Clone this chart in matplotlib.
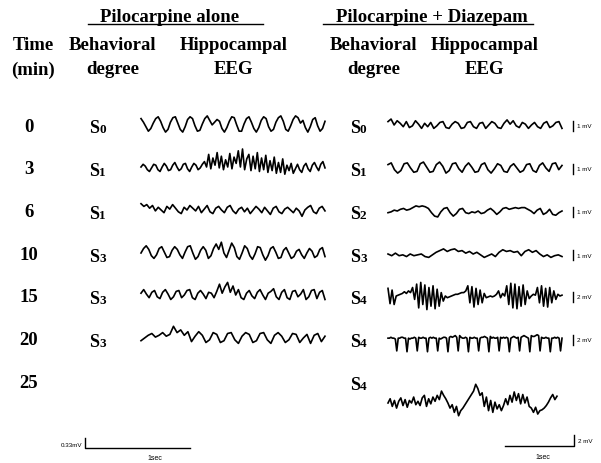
import numpy as np
from matplotlib import pyplot as plt

# time points (min) and behavioural stages
times = ["0", "3", "6", "10", "15", "20", "25"]
stage_alone = ["0", "1", "1", "3", "3", "3"]
stage_diaz = ["0", "1", "2", "3", "4", "4", "4"]
scale_diaz = ["1 mV", "1 mV", "1 mV", "1 mV", "2 mV", "2 mV", "2 mV"]

# EEG traces (deflection, up = positive)
eeg_alone = [
    [6, 2, -3, -8, -5, 1, 6, 8, 3, -4, -9, -6, 2, 7, 8, 1, -6, -9, -3, 5, 8, 6, -2, -8, -7, 0, 6, 9, 4, -1,
     2, 5, 3, -5, -9, -4, 3, 8, 7, -1, -8, -8, 0, 6, 8, 2, -5, -9, -4, 4, 8, 6, -3, -8, -6, 2, 7, 9, 3, -6,
     -8, -2, 5, 9, 7, 1, 4, -4, -9, -3, 5, 7, -2, -8, -5, 3],
    [0, 3, 1, -3, -5, -1, 3, 2, -3, -5, 0, 4, 1, -4, -3, 2, 5, 0, -4, -2, 3, 4, -2, -5, 0, 4, 2, -3, -1, 3,
     6, 0, 14, -2, 10, 2, 16, -1, 12, -3, 8, 0, 15, -2, 11, 4, 18, 0, 20, -3, 9, 14, -4, 12, -2, 16, -5, 10,
     -3, 13, -6, 7, -4, 11, -7, 5, -6, 9, -8, 2, -4, 4, -7, -2, 3, -3, -6, 1, 4, -2, -5, 2, 5, 0, -4, 3, 6, -1],
    [7, 4, 6, 2, 5, -1, 3, 0, -3, 4, 1, 6, 2, -2, -4, 3, 0, 5, 2, -1, 4, -3, 1, 5, -2, -4, 2, 4, 0, -3,
     3, 5, -1, -4, 1, 3, -2, 2, -4, 0, 4, 1, -3, 3, -1, -5, 2, 4, -2, -4, 1, 3, 0, -3, 2, -1, -7, 0, 3, 5,
     -2, -4, 2, 4, -1],
    [0, 5, 8, 4, -3, -6, -2, 5, 7, 1, -5, -4, 3, 7, 4, -2, -6, 1, 7, 8, 0, -7, -4, 3, 7, 3, -6, -3, 5, 10,
     4, 12, 0, -5, 3, 11, 6, -4, -7, 0, 8, 5, -3, -7, -1, 7, 6, -2, -8, -3, 5, 7, 1, -6, -5, 3, 6, 0, -6, -4,
     2, 4, -2, -6, 0, 5, 2, -5, -3, 4, 6, -4],
    [2, 6, 1, -3, 3, 5, -2, -4, 3, 6, 1, -5, -2, 4, 5, -3, 0, 5, 6, -3, -5, 2, 5, 1, -4, 3, 2, -3, 4, 12,
     2, 9, 14, 3, 10, 0, 6, -3, -5, 2, 5, -1, -4, 3, 6, 0, -5, 2, 4, 7, -2, -5, 3, 6, -3, -5, 4, 5, -2, 1,
     6, -5, -2, 5, 6, -4, 3, 5, -5],
    [-3, 0, 3, 5, 1, 3, 6, 2, 4, 13, 6, 9, 3, 7, -4, 2, 7, 3, -5, -2, 6, 4, -5, -3, 5, 6, -2, -6, 2, 6,
     4, -5, -3, 5, 6, -2, -6, 3, 6, 2, -5, -2, 5, 4, -5, 0, 4, -6, 3, 5, -4, 2],
]
eeg_diaz = [
    [4, 7, 0, 5, 2, -2, 4, -3, -1, 5, 1, -4, 2, -2, 3, -4, -1, 3, 4, -3, -4, 1, 4, 2, -4, -3, 3, 4, -2,
     -4, 2, 3, -4, 0, 4, 2, -3, -4, 2, 6, 1, 5, -1, -3, 3, 1, -4, 0, 3, -2, -4, 2, 4, -3, -1, 3, 4, -4],
    [4, 6, -2, -6, -3, 5, 6, 0, -5, -4, 5, 7, 1, -5, -4, 4, 7, 2, -6, -3, 5, 6, -1, -5, 2, 6, 1, -5, -4, 4,
     6, -2, -6, -1, 5, 3, -4, -5, 2, 5, 0, -5, -3, 4, 5, -3, -5, 3, 6, 0, -4, 5, 6, -2, 3],
    [-2, -1, 1, 0, 2, 3, 1, 2, 4, 6, 5, 6, 5, 3, -2, -6, -7, -1, 3, 4, -2, -6, -3, 2, 3, -2, -3, -1, -2, 0,
     -3, -2, 1, 3, 0, -4, -1, 3, 4, 2, 3, 4, 3, 4, 4, 2, 0, -3, 1, 3, -4, -2, 2, -4, -5, -2, 0],
    [0, -2, 1, -2, -1, -3, 0, -2, -1, 0, -3, -4, -1, 2, 4, 6, 3, 5, 6, 3, 4, 1, 3, 0, 2, -1, -4, -2, 0,
     -3, 2, 5, 3, 4, 2, 3, -2, 3, 5, 2, 4, 0, -3, -1, -4, -2, -1, -3],
    [9, -9, 7, -10, 0, 1, 2, 3, 5, 3, 6, 4, 10, -4, 14, -14, 16, -10, 13, -16, 10, -12, 12, -15, 8, -12, 4,
     -6, 0, -2, -1, 0, 1, 2, 2, 3, 4, 4, 6, 12, -8, 11, -13, 9, -10, 7, -8, 3, -2, -1, 0, -1, 0, 2, 6, -2, 3,
     0, 12, -10, 15, -14, 14, -15, 11, -12, 13, -10, 6, -3, 0, 2, 1, 10, -8, 12, -12, 9, -13, 10, -8, 6, -4,
     2, 0, 1],
    [1, 1, 2, 1, 1, 0, -14, 1, 1, 2, 2, 1, 1, -15, 1, 0, 1, 1, 2, 1, -14, 2, 1, 1, 2, 1, 1, -15, 1, 2, 1,
     2, 1, 1, -14, 1, 0, 1, 2, 2, 1, -15, 2, 3, 2, 3, 4, 2, -14, 4, 2, 1, 1, 2, 1, -15, 2, 1, 1, 2, 1, 1,
     -14, 1, 2, 2, 3, 2, 1, -15, 3, 1, 2, 1, 1, 2, -14, 2, 1, 2, 1, 2, 1, -15, 1, 2, 3, 2, 1, 2, -14, 2,
     3, 4, 3, 2, 1, -15, 4, 3, 3, 4, 5, 4, -14, 2, 1, 1, 2, 1, 1, -15, 1, 1, 2, 1, 2, 1, -14, 1],
    [0, 5, -4, 3, -6, 2, 6, -3, 4, -5, 3, 0, 7, -2, 2, -3, 6, 9, -4, 5, -1, 7, 2, 9, 4, 14, 9, 5, 0, -6,
     -2, -11, -4, -15, -9, -6, -2, 2, 6, 10, 14, 22, 17, 9, 12, -4, 7, -9, 3, -11, 1, -7, -2, -9, -3, 5, -2,
     9, 1, 13, 3, 11, -1, 10, 0, 7, -4, -6, -11, -5, -13, -9, -8, -6, -3, 1, 6, 10, 4, 8],
]

# layout (pixel coordinates)
row_y = [127, 170, 213, 256, 298, 341, 384]
left_x = (141, 325)
right_x = (388, 562)

fig = plt.figure(figsize=(6.01, 4.64), dpi=100)
ax = fig.add_axes([0, 0, 1, 1])
ax.set_xlim(0, 601)
ax.set_ylim(464, 0)
ax.axis("off")

serif = dict(family="Liberation Serif", weight="bold", color="black")
sans = dict(family="Liberation Sans", color="black")

# headers
ax.text(170, 17, "Pilocarpine alone", ha="center", va="center", fontsize=13.5, **serif)
ax.plot([88, 263], [25, 25], color="black", lw=1)
ax.text(432, 17, "Pilocarpine + Diazepam", ha="center", va="center", fontsize=13.5, **serif)
ax.plot([323, 533], [25, 25], color="black", lw=1)
for x, top, bottom in [(33, "Time", "(min)"), (113, "Behavioral", "degree"),
                       (234, "Hippocampal", "EEG"), (374, "Behavioral", "degree"),
                       (485, "Hippocampal", "EEG")]:
    ax.text(x, 46, top, ha="center", va="center", fontsize=13.5, **serif)
    ax.text(x, 70, bottom, ha="center", va="center", fontsize=13.5, **serif)


def stage(x, y, digit):
    ax.text(x, y + 6, "S", ha="left", va="baseline", fontsize=13, **serif)
    ax.text(x + 10, y + 6, digit, ha="left", va="baseline", fontsize=9.5, **serif)


for i, t in enumerate(times):
    ax.text(29, row_y[i], t, ha="center", va="center", fontsize=13.5, **serif)

for i, vals in enumerate(eeg_alone):
    stage(89, row_y[i], stage_alone[i])
    xs = np.linspace(left_x[0], left_x[1], len(vals))
    ax.plot(xs, row_y[i] - 2 - np.array(vals) * 0.9, color="black", lw=1.2)

for i, vals in enumerate(eeg_diaz):
    stage(350, row_y[i], stage_diaz[i])
    off = 20 if i == 6 else -1
    xs = np.linspace(right_x[0], right_x[1] - (5 if i == 6 else 0), len(vals))
    ax.plot(xs, row_y[i] + off - np.array(vals) * 0.85, color="black", lw=1.2)
    if i < 6:
        yc = row_y[i]
        ax.plot([573, 573], [yc - 5, yc + 5], color="black", lw=1)
        ax.text(577, yc, scale_diaz[i], ha="left", va="center", fontsize=4.5, **sans)

# calibration bars
ax.plot([574, 574, 505], [436, 447, 447], color="black", lw=1)
ax.text(578, 442, scale_diaz[6], ha="left", va="center", fontsize=4.5, **sans)
ax.text(543, 458, "1sec", ha="center", va="center", fontsize=5, **sans)

ax.plot([85, 85, 190], [439, 449, 449], color="black", lw=1)
ax.text(82, 446, "0.33mV", ha="right", va="center", fontsize=4.5, **sans)
ax.text(155, 459, "1sec", ha="center", va="center", fontsize=5, **sans)

fig.savefig("out.png", dpi=100)
